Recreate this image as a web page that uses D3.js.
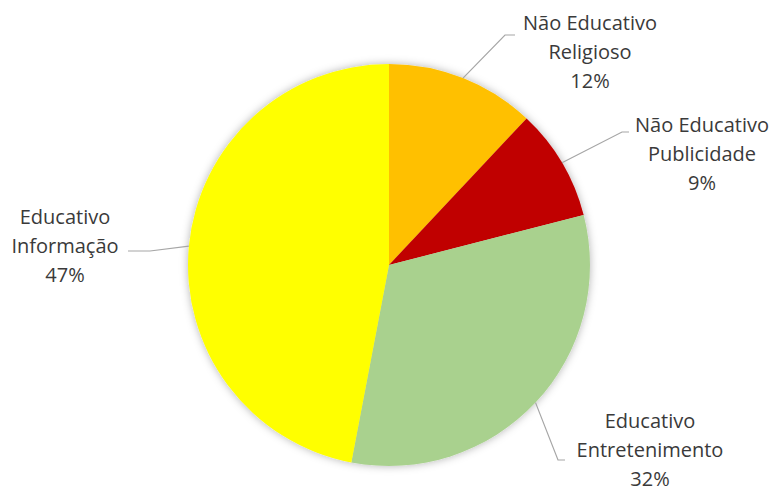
<!DOCTYPE html>
<html>
<head>
<meta charset="utf-8">
<script src="https://cdn.jsdelivr.net/npm/d3@7"></script>
<style>
  html, body { margin: 0; padding: 0; background: #fff; }
  svg { display: block; }
  text { font-family: "Open Sans", "Noto Sans", sans-serif; fill: #3a3a3a; }
</style>
</head>
<body>
<svg id="chart"></svg>
<script>
// data, clockwise from 12 o'clock
const categories = ['Não Educativo|Religioso', 'Não Educativo|Publicidade', 'Educativo|Entretenimento', 'Educativo|Informação']
const values = [12, 9, 32, 47]
const colors = ['#FFC000', '#C00000', '#A9D18E', '#FFFF00']

// label layout: text center x, first line y, elbow point, end of leader line
const labelPos = [
  { x: 590, y: 23, elbow: [505, 35], end: [515, 35] },
  { x: 702, y: 125, elbow: [622, 132], end: [629, 132] },
  { x: 650, y: 421, elbow: [558, 460], end: [565, 460] },
  { x: 65, y: 217, elbow: [150, 251], end: [128, 251] }
]

const width = 776
const height = 491
const cx = 389
const cy = 265
const radius = 201
const lineGap = 29

const svg = d3.select('#chart').attr('width', width).attr('height', height)

// soft shadow like excel
const defs = svg.append('defs')
defs.append('filter').attr('id', 'shadow')
  .attr('x', '-20%').attr('y', '-20%').attr('width', '140%').attr('height', '140%')
  .append('feDropShadow')
  .attr('dx', 0).attr('dy', 0).attr('stdDeviation', 4)
  .attr('flood-color', '#000').attr('flood-opacity', 0.3)

const pie = d3.pie().sort(null).value(d => d.value)
const arcs = pie(values.map((v, i) => ({ value: v, i: i })))
const arc = d3.arc().innerRadius(0).outerRadius(radius)

const g = svg.append('g').attr('transform', `translate(${cx},${cy})`)

g.append('g').attr('filter', 'url(#shadow)')
  .selectAll('path')
  .data(arcs)
  .enter().append('path')
  .attr('d', arc)
  .attr('fill', d => colors[d.data.i])

// leader lines start at the arc edge, mid angle of the slice
const leaderGroup = svg.append('g')
arcs.forEach(d => {
  const mid = (d.startAngle + d.endAngle) / 2
  const p0 = [cx + radius * Math.sin(mid), cy - radius * Math.cos(mid)]
  const lp = labelPos[d.data.i]
  leaderGroup.append('polyline')
    .attr('points', [p0, lp.elbow, lp.end].map(p => p.join(',')).join(' '))
    .attr('fill', 'none')
    .attr('stroke', '#A6A6A6')
    .attr('stroke-width', 1.2)
})

// labels: category (two lines) + percent
const total = d3.sum(values)
const labelGroup = svg.append('g')
arcs.forEach(d => {
  const lp = labelPos[d.data.i]
  const lines = categories[d.data.i].split('|').concat([Math.round(d.data.value / total * 100) + '%'])
  const t = labelGroup.append('text')
    .attr('text-anchor', 'middle')
    .attr('font-size', 20)
  lines.forEach((line, k) => {
    t.append('tspan')
      .attr('x', lp.x)
      .attr('y', lp.y + k * lineGap)
      .attr('dy', '0.35em')
      .text(line)
  })
})
</script>
</body>
</html>
